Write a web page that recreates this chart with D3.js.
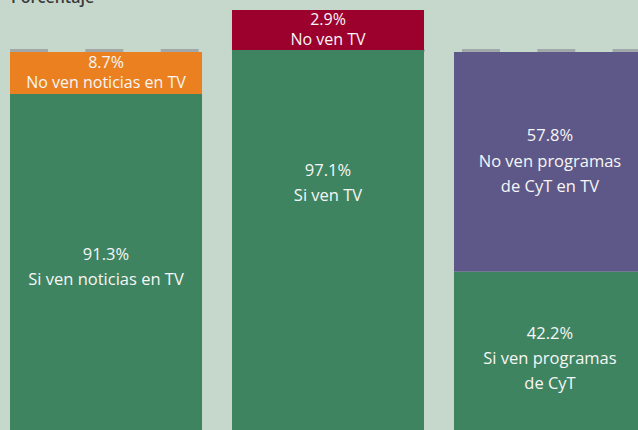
<!DOCTYPE html>
<html>
<head>
<meta charset="utf-8">
<script src="https://cdn.jsdelivr.net/npm/d3@7"></script>
<style>
  html, body { margin: 0; padding: 0; background: #c6d8cc; }
  #container { width: 638px; height: 430px; overflow: hidden; }
  text { font-family: "Open Sans", "Noto Sans", sans-serif; }
</style>
</head>
<body>
<div id="container"></div>
<script>
// what the three bars show
var categories = ["Noticias", "TV", "CyT"];
var yesValues = [91.3, 97.1, 42.2];
var noValues = [8.7, 2.9, 57.8];
var yesLabels = [["Si ven noticias en TV"], ["Si ven TV"], ["Si ven programas", "de CyT"]];
var noLabels = [["No ven noticias en TV"], ["No ven TV"], ["No ven programas", "de CyT en TV"]];
var noColors = ["#ea801f", "#9c002d", "#5e5888"];
var yesColor = "#3f8460";

var width = 638, height = 430;
var minBand = 42;   // small slices get a band tall enough for two lines of text

var svg = d3.select("#container").append("svg")
  .attr("width", width)
  .attr("height", height);

var x = d3.scaleBand()
  .domain(categories)
  .range([10, 646])
  .paddingInner(0.135);

var y = d3.scaleLinear()
  .domain([0, 100])
  .range([432, 52]);

// dashed line at the 100% level, mostly hidden behind the bars
svg.append("line")
  .attr("x1", 10).attr("x2", width)
  .attr("y1", y(100) - 1.5).attr("y2", y(100) - 1.5)
  .style("stroke", "#a1a8a9")
  .style("stroke-width", 3)
  .style("stroke-dasharray", "38 37.33");

svg.append("text")
  .attr("x", 11).attr("y", 3)
  .style("font-size", "16px")
  .style("font-weight", 600)
  .style("fill", "#3a3a3a")
  .text("Porcentaje");

var bars = categories.map(function(c, i) {
  var no = noValues[i], yes = yesValues[i];
  var noH = y(0) - y(no);
  var d = { cat: c, i: i };
  if (no < 5) {
    // tiny slice: green fills to the top line, band sits on top of it
    d.yesTop = y(100) - 2;
    d.noTop = d.yesTop - minBand + 2;
  } else if (noH < minBand) {
    d.noTop = y(100);
    d.yesTop = y(100) + minBand;
  } else {
    d.noTop = y(100);
    d.yesTop = y(yes);
  }
  return d;
});

var groups = svg.selectAll("g.bar")
  .data(bars)
  .enter()
  .append("g")
  .attr("class", "bar");

groups.append("rect")
  .attr("x", function(d) { return x(d.cat); })
  .attr("y", function(d) { return d.yesTop; })
  .attr("width", x.bandwidth())
  .attr("height", function(d) { return y(0) - d.yesTop; })
  .style("fill", yesColor);

groups.append("rect")
  .attr("x", function(d) { return x(d.cat); })
  .attr("y", function(d) { return d.noTop; })
  .attr("width", x.bandwidth())
  .attr("height", function(d) { return d.yesTop - d.noTop; })
  .style("fill", function(d) { return noColors[d.i]; });

var fmt = function(v) { return v.toFixed(1) + "%"; };

// label nudges, pixels, for the green blocks
var yesNudge = [4, -58, 6];

function writeBlock(g, lines, cx, cy, lead, size) {
  var t = g.append("text")
    .attr("text-anchor", "middle")
    .style("font-size", size + "px")
    .style("fill", "#f6f6f6");
  var top = cy - (lines.length - 1) * lead / 2;
  lines.forEach(function(l, k) {
    t.append("tspan")
      .attr("x", cx)
      .attr("y", top + k * lead)
      .attr("dy", "0.35em")
      .text(l);
  });
}

groups.each(function(d) {
  var g = d3.select(this);
  var cx = x(d.cat) + x.bandwidth() / 2;
  var noLines = [fmt(noValues[d.i])].concat(noLabels[d.i]);
  var yesLines = [fmt(yesValues[d.i])].concat(yesLabels[d.i]);
  var small = (d.yesTop - d.noTop) <= minBand + 1;
  writeBlock(g, noLines, cx, (d.noTop + d.yesTop) / 2 - 1, small ? 20 : 25.5, small ? 16 : 16.5);
  writeBlock(g, yesLines, cx, (d.yesTop + y(0)) / 2 + yesNudge[d.i], 25, 16.5);
});
</script>
</body>
</html>
